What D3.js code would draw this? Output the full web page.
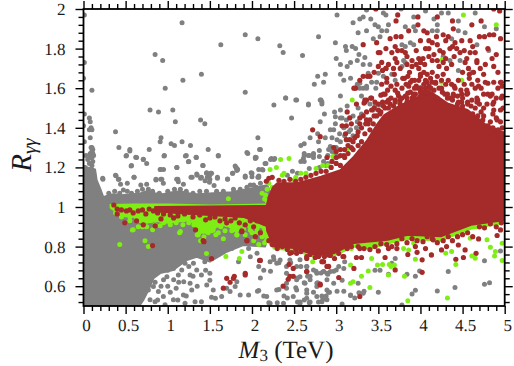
<!DOCTYPE html>
<html>
<head>
<meta charset="utf-8">
<script src="https://cdn.jsdelivr.net/npm/d3@7"></script>
<style>
    html, body { margin: 0; padding: 0; background: #fff; }
    svg { display: block; }
    text { font-family: "Liberation Serif", serif; fill: #1a1a1a; text-rendering: geometricPrecision; }
</style>
</head>
<body>
<div id="chart"></div>
<script>
// tick values
const xMajor = [0, 0.5, 1, 1.5, 2, 2.5, 3, 3.5, 4, 4.5, 5];
const xMinor = [0.1,0.2,0.3,0.4,0.6,0.7,0.8,0.9,1.1,1.2,1.3,1.4,1.6,1.7,1.8,1.9,2.1,2.2,2.3,2.4,2.6,2.7,2.8,2.9,3.1,3.2,3.3,3.4,3.6,3.7,3.8,3.9,4.1,4.2,4.3,4.4,4.6,4.7,4.8,4.9];
const yMajor = [0.6, 0.8, 1, 1.2, 1.4, 1.6, 1.8, 2];
const yMinor = [0.52,0.56,0.64,0.68,0.72,0.76,0.84,0.88,0.92,0.96,1.04,1.08,1.12,1.16,1.24,1.28,1.32,1.36,1.44,1.48,1.52,1.56,1.64,1.68,1.72,1.76,1.84,1.88,1.92,1.96];

// the places where the dots merge completely, as outlines in data units
const grayDense = [[0,0.48],[0,1.18],[0.04,1.2],[0.137,1.19],[0.156,1.136],[0.2,1.09],[0.235,1.05],[0.3,1.06],[0.354,1.065],[0.47,1.06],[0.59,1.065],[0.68,1.07],[0.75,1.08],[0.85,1.07],[0.945,1.065],[1.05,1.075],[1.146,1.08],[1.25,1.07],[1.344,1.065],[1.54,1.07],[1.75,1.075],[1.94,1.09],[2.18,1.11],[2.3,1],[2.155,0.8],[1.895,0.808],[1.7,0.774],[1.5,0.724],[1.344,0.749],[1.226,0.732],[1.065,0.682],[0.91,0.666],[0.83,0.64],[0.77,0.58],[0.71,0.53],[0.63,0.48]];
const greenBand = [[0.32,1.01],[0.6,1.012],[1,1.012],[1.5,1.008],[2.2,1.012],[2.2,0.88],[2.1,0.9],[1.98,0.89],[1.9,0.93],[1.82,0.87],[1.7,0.91],[1.58,0.9],[1.48,0.87],[1.36,0.87],[1.28,0.94],[1.2,0.93],[1,0.92],[0.85,0.93],[0.75,0.92],[0.6,0.95],[0.45,0.96],[0.34,0.99]];
const greenFringe = [[2.1,1],[2.1,0.96],[2.15,0.85],[2.26,0.79],[2.5,0.78],[2.74,0.75],[2.975,0.755],[3.21,0.8],[3.4,0.79],[3.61,0.815],[3.85,0.84],[4.24,0.83],[4.6,0.89],[5,0.92],[5,1]];
const redBand = [[0.85,1],[1.5,1.003],[2.2,1.005],[2.2,0.9],[1.9,0.95],[1.5,0.96],[1.1,0.97],[0.85,0.98]];
const redDense = [[2.18,0.88],[2.16,0.98],[2.2,1.05],[2.25,1.1],[2.3,1.12],[2.54,1.12],[2.82,1.153],[3.05,1.186],[3.21,1.254],[3.37,1.338],[3.49,1.42],[3.57,1.464],[3.73,1.506],[3.885,1.54],[4.12,1.582],[4.32,1.523],[4.56,1.49],[4.76,1.42],[5.02,1.37],[5.02,0.936],[4.6,0.91],[4.24,0.852],[3.85,0.86],[3.61,0.835],[3.21,0.818],[2.975,0.767],[2.74,0.76],[2.5,0.793],[2.26,0.801]];

const grayPoints = [
    [0.01,1.97],[0.01,1.73],[0,1.65],[0.1,1.59],[1.17,1.93],[0.85,1.77],[0.94,1.74],[1.18,1.64],[0.97,1.6],[1.4,1.67],[1.63,1.82],[1.92,1.87],[2.07,1.85],[1.92,1.58],
    [0.79,1.49],[0.89,1.48],[1.06,1.49],[1.09,1.43],[1.39,1.44],[1.44,1.42],[0.38,1.38],[0.92,1.35],[0.91,1.33],[1.04,1.32],[1.08,1.31],[1.17,1.33],[1.27,1.31],[0.42,1.3],[0.55,1.29],[0.51,1.26],[0.63,1.25],[0.71,1.24],[0.75,1.22],[0.78,1.29],[0.96,1.26],[1.22,1.26],[1.25,1.23],[1.34,1.25],[1.48,1.29],[1.6,1.26],[1.42,1.21],[0.57,1.21],[0.91,1.19],[0.95,1.19],[1.11,1.2],[1.81,1.2],[1.83,1.19],[1.95,1.27],[2.05,1.25],[2.07,1.35],[2.09,1.29],
    [0.38,1.16],[0.42,1.14],[0.6,1.15],[0.86,1.14],[0.93,1.14],[1.12,1.14],[1.29,1.15],[1.35,1.16],[1.4,1.15],[1.46,1.17],[1.51,1.17],[1.47,1.15],[1.5,1.14],[1.59,1.15],[1.71,1.14],[1.77,1.17],[1.92,1.15],[2,1.17],[2.08,1.15],[0.23,1.14],
    // column next to the left axis
    [0.07,1.45],[0.08,1.43],[0.07,1.39],[0.1,1.39],[0.09,1.4],[0.08,1.35],[0.01,1.47],[0,1.41],[0.01,1.33],[0.03,1.26],[0.02,1.2],[0.05,1.24],[0.07,1.22],[0.09,1.22],[0.1,1.25],[0.1,1.28],[0.1,1.3],[0.08,1.27],[0.12,1.26],[0.11,1.23],[0.07,1.26],[0.09,1.3],[0.11,1.29],[0.06,1.19],[0.1,1.19],[0.12,1.17],[0.09,1.16],[0.13,1.15],[0.11,1.27],[0.09,1.25],[0.1,1.21],
    // above the long band
    [0.505,1.258],[0.55,1.283],[0.62,1.251],[0.71,1.241],[0.565,1.207],[0.956,1.258],[0.916,1.19],[1.106,1.199],[1.21,1.258],[1.245,1.229],[1.336,1.251],[1.415,1.209],[1.6,1.258],[1.8,1.207],[1.82,1.195],[1.94,1.275],[2.04,1.251],
    [0.228,1.145],[0.386,1.158],[0.414,1.14],[0.44,1.115],[0.52,1.12],[0.6,1.15],[0.68,1.111],[0.75,1.115],[0.86,1.136],[0.916,1.14],[0.948,1.12],[1.106,1.14],[1.126,1.128],[1.186,1.115],[1.276,1.15],[1.344,1.167],[1.39,1.145],[1.443,1.133],[1.463,1.173],[1.5,1.162],[1.52,1.17],[1.495,1.125],[1.55,1.108],[1.59,1.145],[1.71,1.142],[1.77,1.17],[1.82,1.184],[1.92,1.157],[1.99,1.173],[2,1.153],[2.08,1.157],[2.155,1.22],[2.13,1.187],[0.473,1.086],[1.98,1.111],[2.02,1.111],[2.1,1.12],
    [0.3,1.07],[0.37,1.08],[0.43,1.07],[0.52,1.08],[0.57,1.07],[0.64,1.08],[0.7,1.09],[0.77,1.09],[0.82,1.08],[0.9,1.07],[1,1.08],[1.08,1.09],[1.15,1.09],[1.22,1.08],[1.3,1.07],[1.38,1.08],[1.46,1.08],[1.58,1.08],[1.66,1.08],[1.78,1.09],[1.86,1.09],[1.94,1.1],[2.05,1.1],
    // under the band, bottom left
    [0.99,0.648],[1.07,0.632],[0.95,0.632],[1.19,0.623],[1.265,0.615],[1.126,0.657],[1.205,0.716],[1.305,0.716],[1.344,0.682],[1.4,0.657],[1.265,0.657],[1.166,0.682],[1.067,0.69],[1.463,0.606],[1.54,0.581],[1.64,0.548],[1.74,0.573],[1.8,0.598],[1.86,0.556],[1.96,0.556],[2.08,0.578],[1.82,0.623],[1.7,0.59],[1.52,0.544],[1.566,0.539],[1.285,0.581],[1.186,0.556],[1.067,0.531],[0.948,0.548],[0.889,0.573],[0.83,0.598],[0.77,0.581],[1.324,0.522],[1.4,0.522],[1.205,0.514],[0.968,0.506],[0.849,0.522],[0.79,0.531],
    [0.88,0.7],[0.95,0.7],[1,0.68],[0.85,0.62],[0.92,0.6],[1,0.6],[1.03,0.57],[0.88,0.53],[1.1,0.59],[1.13,0.62],[1.12,0.53],[1.25,0.7],[1.3,0.65],[1.35,0.6],[1.45,0.68],[1.5,0.63],[1.22,0.55],
    [2.175,0.548],[2.215,0.514],[2.294,0.581],[2.41,0.59],[2.53,0.632],[2.65,0.581],[2.77,0.548],[2.89,0.581],[2.83,0.522],[2.89,0.531],[2.374,0.514],[2.49,0.548],[2.57,0.514],[2.41,0.699],[2.334,0.732],[2.45,0.732],[2.53,0.699],[2.65,0.699],[2.73,0.682],[2.85,0.674],[2.255,0.749],[2.294,0.716],[2.41,0.665],[2.57,0.648],[2.69,0.632],[2.89,0.632],[2.77,0.615],[2.41,0.615],[2.53,0.581],[2.65,0.539],[2.77,0.598],[2.89,0.665],
    [1.56,0.757],[1.64,0.783],[1.76,0.791],[1.44,0.724],[1.5,0.665],[1.96,0.791],[2.06,0.766],[1.98,0.749],[1.84,0.724],[2.08,0.699],[2.215,0.724],
    // top right cloud
    [3.01,1.97],[3.36,1.995],[3.32,1.96],[3.28,1.95],[3.2,1.93],[3.41,1.95],[3.56,1.98],[3.59,1.97],[3.77,2],[3.92,1.96],[4.06,1.99],[4.16,1.95],[4.2,1.92],[4.25,1.98],[4.33,1.98],[4.45,1.94],[4.65,1.98],[4.76,1.91],[4.9,1.9],
    [3.36,1.89],[3.26,1.88],[3.46,1.92],[3.5,1.91],[3.62,1.92],[3.6,1.89],[3.54,1.89],[3.52,1.86],[3.44,1.85],[3.82,1.91],[3.92,1.91],[3.94,1.89],[4.14,1.89],[4.2,1.89],[4.37,1.85],[4.45,1.89],[4.53,1.88],[3.88,1.83],[3.78,1.82],[3.82,1.81],[3.92,1.82],[3.23,1.8],[3.19,1.81],[3.11,1.81],[3.12,1.79],[3.27,1.77],[3.25,1.74],[3.34,1.755],[3,1.75],[3.05,1.72],[3.17,1.73],[3.13,1.71],[3.32,1.72],[3.4,1.72],
    [2.79,1.86],[2.99,1.83],[2.33,1.815],[2.37,1.78],[2.6,1.765],[2.78,1.66],[2.87,1.67],[2.74,1.62],[2.85,1.63],[3.05,1.67],[3.09,1.64],[3.17,1.65],[3.05,1.56],[2.4,1.55],[2.53,1.54],[2.81,1.54],[2.83,1.52],[2.67,1.52],[3.25,1.62],[3.28,1.625],[3.32,1.6],[3.36,1.61],[3.42,1.63],[3.48,1.63],[3.38,1.675],[3.5,1.675],[3.56,1.66],[3.66,1.67],[3.7,1.64],[3.78,1.71],[3.82,1.73],[3.8,1.74],[4.67,1.82],[4.81,1.79],[4.61,1.68],[4.27,1.76],[4.35,1.74],[4.47,1.74],[4.45,1.69],
    [2.26,1.515],[2.4,1.55],[2.52,1.54],[2.67,1.515],[2.82,1.54],[2.83,1.53],[2.47,1.45],[2.86,1.47],[2.81,1.43],[2.98,1.48],[3.05,1.49],[2.99,1.456],[3.05,1.45],[2.99,1.42],[2.93,1.39],[2.97,1.39],[2.69,1.35],[2.78,1.37],[2.87,1.35],[2.79,1.33],[2.95,1.35],[3.01,1.34],[2.58,1.31],[2.62,1.32],[2.93,1.305],[2.91,1.29],[2.8,1.285],[2.62,1.27],[2.67,1.26],[2.73,1.265],[2.73,1.25],[2.8,1.255],[2.1,1.29],[2.23,1.245],[2.27,1.245],[2.61,1.245],[3.03,1.255],[2.99,1.27],[3.09,1.4],[3.17,1.39],[3.24,1.4],[3.2,1.36],[3.07,1.45],[3.13,1.51],[3.28,1.6],[3.36,1.6],[3.47,1.6],[3.46,1.51],[3.44,1.49],[3.52,1.515],
    [3,1.3],[3.05,1.33],[3.1,1.36],[3.15,1.38],[3.25,1.43],[3.3,1.47],[3.4,1.52],[2.9,1.26],[2.95,1.28],[3.12,1.44],[3.2,1.46],[3.26,1.5],[3.3,1.56],[2.85,1.23],[2.9,1.22],[3.04,1.37],
    [2.04,1.245],[2.165,1.22],[2.22,1.24],[2.26,1.24],[2.62,1.26],[2.68,1.26],[2.73,1.27],[2.58,1.23],[2.62,1.23],[2.54,1.17],[2.68,1.195],[2.8,1.2],[2.88,1.21],[2.08,1.19],[2.12,1.19],[2.07,1.15],[2.42,1.16],[2.48,1.18],
    // bottom right
    [2.57,0.733],[2.65,0.7],[2.69,0.65],[2.77,0.665],[2.85,0.674],[2.93,0.674],[3,0.682],[3.09,0.69],[3.1,0.724],[3.07,0.63],[2.97,0.615],[2.91,0.57],[2.83,0.55],[2.79,0.52],[2.69,0.52],[2.57,0.52],[2.65,0.565],[2.73,0.57],[2.63,0.615],[3.07,0.51],[3.17,0.556],[3.22,0.54],[3.32,0.565],[3.5,0.57],[3.26,0.615],[3.46,0.68],[3.52,0.68],[3.62,0.66],[3.84,0.66],[3.94,0.65],[3.99,0.677],[4.33,0.674],[4.2,0.576],[4.41,0.593],[3.94,0.58],[3.9,0.56],[4.76,0.61],[4.82,0.617],[4.76,0.728],[4.95,0.778],[3.7,0.74],[3.66,0.716],[3.78,0.505],[3.33,0.575],[3.27,0.567],[3.01,0.575],[3.09,0.575],[3.17,0.553],[2.84,0.533],[2.88,0.55],[2.92,0.57],[2.065,0.575],[2.14,0.55],[2.2,0.516],[2.3,0.516],[2.32,0.583],[2.38,0.55],[2.42,0.54],[2.54,0.52],[2.62,0.53],[2.68,0.516],[2.14,0.68],[2.22,0.676],[2.1,0.642],[2.26,0.735],[2.32,0.718],[2.46,0.718],[2.58,0.7],[2.66,0.65],[2.76,0.676],[2.82,0.667],[2.9,0.66],[2.97,0.676],[3.03,0.7],[2.78,0.617],[2.62,0.617],[2.54,0.642],[2.52,0.592]
];

const greenPoints = [
    [2.34,1.24],[2.44,1.245],[2.215,1.19],[2.29,1.2],[2.38,1.17],[2.36,1.16],[2.52,1.15],[2.58,1.17],[2.64,1.17],[2.76,1.195],[2.84,1.21],[2.9,1.21],[2.96,1.255],[3.13,1.29],[3.19,1.54],[4.51,1.97],[4.9,1.92],[4.25,1.63],[4.49,1.64],[4.26,1.745],[3.73,1.53],[2.5,1.135],
    [1.72,1.042],[0.58,0.884],[1.15,0.876],[1.36,0.859],[1.48,0.9],[1.54,0.884],[1.58,0.926],[1.7,0.91],[1.82,0.859],[1.98,0.884],[2.1,0.926],
    [0.43,0.81],[0.73,0.83],[0.77,0.8],[0.82,0.885],[0.59,0.885],[0.65,0.9],[0.91,0.905],[1.14,0.87],[1.37,0.87],[1.39,0.83],[1.46,0.765],[1.69,0.75],[1.88,0.775],[1.85,0.74],[0.34,1],[0.44,1],[0.51,1],[0.59,0.985],[0.63,0.935],[0.75,0.95],[0.75,0.9],[0.89,0.95],[1.03,0.91],[1.19,0.935],[1.31,0.91],[1.35,0.86],[1.48,0.87],[1.54,0.9],[1.66,0.84],[1.82,0.86],[2.02,0.83],[2.08,0.81],
    [0.55,0.93],[0.7,0.9],[0.95,0.92],[1.1,0.92],[1.25,0.92],[1.43,0.85],[1.6,0.87],[1.76,0.88],[1.92,0.86],[2.05,0.87],[0.85,0.91],
    [0.38,0.97],[0.45,0.95],[0.5,0.96],[0.55,0.95],[0.62,0.96],[0.68,0.93],[0.72,0.94],[0.8,0.93],[0.86,0.95],[0.93,0.93],[0.98,0.95],[1.05,0.94],[1.12,0.94],[1.18,0.91],[1.24,0.94],[1.3,0.93],[1.35,0.92],[1.4,0.89],[1.45,0.9],[1.52,0.88],[1.57,0.86],[1.63,0.9],[1.68,0.88],[1.74,0.91],[1.8,0.89],[1.86,0.91],[1.9,0.89],[1.95,0.91],[2,0.87],[2.06,0.89],[2.12,0.85],[2.15,0.82],
    [2.12,1.07],[2.16,1.06],[2.18,1.09],[2.2,1.12],[2.24,1.1],[2.18,1.03],[2.15,1.04],[2.14,0.86],[2.17,0.83],
    [2.72,0.724],[3.17,0.707],[3.3,0.65],[3.38,0.677],[3.17,0.615],[3.2,0.623],[3.4,0.593],[3.49,0.707],[3.55,0.71],[3.63,0.71],[3.69,0.707],[3.65,0.7],[3.62,0.657],[3.81,0.65],[3.85,0.526],[4.32,0.54],[3.94,0.736],[4.13,0.758],[4.3,0.766],[4.37,0.775],[4.42,0.71],[4.61,0.753],[4.65,0.741],[4.79,0.834],[4.83,0.797],[4.89,0.775],[4.88,0.753],[4.97,0.73],[4.97,0.817],[3.8,0.79],[3.86,0.783],[3.18,0.79],[3.42,0.74],[3.2,0.817],[3.52,0.834],[3.92,0.817],[4.13,0.896],[4.67,0.9],[4.87,0.926],[4.59,0.842]
];

const redPoints = [
    [3.47,2],[4.87,2],[4.94,1.99],[3.73,1.97],[3.71,1.94],[3.97,1.96],[3.97,1.92],[4.2,1.96],[4.38,1.94],[4.39,1.9],[4.72,1.94],[4.61,1.92],[3.86,1.89],[4.04,1.89],[4.08,1.88],[4.19,1.86],[4.27,1.87],[4.3,1.84],[4,1.84],[4.1,1.84],[4.2,1.82],[4.38,1.81],[4.41,1.83],[4.49,1.84],[4.59,1.84],[4.7,1.86],[4.76,1.86],[4.82,1.87],[4.87,1.87],[4.95,1.85],[3.64,1.85],[3.71,1.86],[3.77,1.86],[3.48,1.83],[3.32,1.82],[3.59,1.8],[3.7,1.81],[3.73,1.79],[3.78,1.79],[3.52,1.78],[3.5,1.78],
    [4.06,1.8],[4.1,1.8],[4.16,1.77],[4.23,1.79],[4.27,1.78],[4.35,1.8],[4.43,1.8],[4.47,1.78],[4.59,1.78],[4.65,1.78],[4.67,1.74],[4.55,1.75],[4.77,1.72],[4.85,1.75],[4.87,1.71],[3.7,1.75],[3.84,1.76],[3.72,1.73],[3.68,1.7],[3.59,1.7],[3.54,1.73],[3.9,1.74],[3.98,1.75],[4.03,1.75],[4.1,1.76],[4,1.73],[3.9,1.71],[3.87,1.68],[4.2,1.74],[4.27,1.73],[4.22,1.71],[4.31,1.7],[4.37,1.72],[4.53,1.73],[4.57,1.7],[4.63,1.68],[4.71,1.7],[4.67,1.73],
    [3.4,1.66],[3.32,1.66],[3.28,1.64],[3.23,1.6],[3.54,1.62],[3.6,1.63],[3.81,1.65],[3.9,1.64],[4,1.66],[4.08,1.67],[4.14,1.68],[4.18,1.63],[4.04,1.62],[4.27,1.67],[4.33,1.64],[4.41,1.6],[4.55,1.59],[4.61,1.62],[4.69,1.61],[4.77,1.63],[4.87,1.63],[4.95,1.63],[4.97,1.61],[4.55,1.57],[4.75,1.57],[4.83,1.56],[4.87,1.53],[4.97,1.56],[3.56,1.57],[3.7,1.59],[3.74,1.56],[3.86,1.61],[3.92,1.57],[4.04,1.58],[4.16,1.59],[4.29,1.57],[4.39,1.56],[4.49,1.57],[4.61,1.54],[3.36,1.54],[3.46,1.53],[3.34,1.53],[3.62,1.54],[3.7,1.54],[3.84,1.53],[3.96,1.54],[4.08,1.55],[4.2,1.54],[4.67,1.53],
    [3.95,1.61],[4,1.6],[4.06,1.64],[4.1,1.61],[4.14,1.63],[3.98,1.64],[4.12,1.6],[4.22,1.6],
    [3.37,1.66],[3.55,1.69],[3.59,1.7],[3.69,1.67],[3.79,1.65],[3.85,1.66],[3.93,1.64],[4,1.67],[4.08,1.63],[4.18,1.625],[4.3,1.62],[4.4,1.61],[4.48,1.59],[4.56,1.575],[4.68,1.64],[4.8,1.625],[4.96,1.63],[4.92,1.6],[4.8,1.57],[4.68,1.54],[4.56,1.53],[4.44,1.56],[4.32,1.57],[4.2,1.55],[4.08,1.58],[3.97,1.6],[3.85,1.575],[3.73,1.575],[3.61,1.59],[3.53,1.565],[3.41,1.55],[3.33,1.525],[3.21,1.6],[4.86,1.52],[4.96,1.55],[4.98,1.5],[4.86,1.47],[4.72,1.48],[4.6,1.51],
    [3.45,1.5],[3.5,1.52],[3.55,1.53],[3.65,1.55],[3.78,1.55],[3.9,1.55],[4,1.56],[4.12,1.6],[4.25,1.6],[4.35,1.55],[4.45,1.53],[4.5,1.55],[4.65,1.5],[4.7,1.52],[4.75,1.5],[4.9,1.45],[4.95,1.43],[3.6,1.65],[3.65,1.61],[3.72,1.62],[3.78,1.6],[3.83,1.62],[3.88,1.63],[3.93,1.6],[3.98,1.7],[4.04,1.68],[4.12,1.65],[4.2,1.66],[4.25,1.64],[4.37,1.62],[4.45,1.64],[4.52,1.62],[4.58,1.65],[4.65,1.6],[4.72,1.6],[4.85,1.57],[4.9,1.55],[3.62,1.72],[3.76,1.7],[3.84,1.72],[3.95,1.72],[4.05,1.72],[4.14,1.74],[4.3,1.75],[4.4,1.76],[4.5,1.68],[4.58,1.67],[4.75,1.67],[4.92,1.68],[3.45,1.68],[3.5,1.71],[3.66,1.78],[3.82,1.78],[3.95,1.79],[4.14,1.83],[4.33,1.86],[4.52,1.79],[4.62,1.81],[4.8,1.8],[4.9,1.77],
    [3.24,1.52],[3.13,1.48],[3.16,1.45],[3.28,1.45],[3.36,1.48],[3.34,1.54],[3.42,1.55],[3.58,1.57],[3.52,1.47],[3.38,1.42],[3.12,1.41],[3.07,1.41],[3.18,1.42],[3.11,1.37],[3.22,1.35],[3.16,1.34],[2.72,1.39],[2.81,1.355],[2.97,1.3],[3.05,1.29],[3.09,1.26],[2.89,1.25],[3.18,1.3],[4.91,1.44],[4.97,1.4],[4.83,1.43],[4.75,1.46],[4.87,1.49],[4.95,1.49],[4.79,1.52],[4.67,1.55],[4.49,1.53],[4.39,1.57],[4.87,1.36],[4.79,1.355],[4.97,1.35],[4.77,1.33],[4.99,1.3],
    [2.2,1.145],[2.24,1.15],[2.17,1.13],
    // upper edge of the solid part
    [2.32,1.135],[2.38,1.13],[2.45,1.14],[2.52,1.13],[2.58,1.14],[2.64,1.15],[2.7,1.16],[2.76,1.17],[2.82,1.18],[2.88,1.18],[2.94,1.2],[3,1.22],[3.05,1.21],[3.1,1.25],[3.14,1.27],[3.2,1.29],[3.26,1.31],[3.3,1.33],[3.34,1.37],[3.4,1.39],[3.44,1.42],[3.48,1.46],[3.53,1.48],[3.58,1.5],[3.64,1.52],[3.7,1.53],[3.76,1.54],[3.82,1.56],[3.88,1.58],[3.94,1.57],[4,1.58],[4.06,1.6],[4.26,1.58],[4.32,1.55],[4.38,1.54],[4.44,1.52],[4.5,1.51],[4.56,1.52],[4.62,1.47],[4.68,1.46],[4.74,1.44],[4.8,1.41],[4.86,1.4],[4.92,1.39],[4.97,1.37],
    [3.45,1.46],[3.4,1.44],[3.35,1.42],[3.3,1.4],[3.26,1.38],[3.32,1.46],[3.42,1.49],[3.5,1.49],[3.56,1.51],[3.62,1.5],[3.68,1.51],[3.76,1.52],[3.6,1.53],[3.25,1.36],[3.2,1.33],[3.14,1.31],[3.1,1.29],[3.12,1.34],[3.05,1.26],[3,1.25],[2.95,1.23],[3,1.28],[3.28,1.42],[3.36,1.44],[3.84,1.55],[3.92,1.56],[4,1.6],
    // lower edge of the solid part
    [2.2,0.83],[2.24,0.81],[2.3,0.79],[2.36,0.8],[2.42,0.785],[2.47,0.77],[2.52,0.785],[2.58,0.775],[2.63,0.79],[2.69,0.76],[2.75,0.745],[2.8,0.76],[2.86,0.75],[2.93,0.755],[2.98,0.74],[3.03,0.765],[3.08,0.75],[3.13,0.79],[3.18,0.8],[3.26,0.8],[3.33,0.79],[3.4,0.785],[3.46,0.8],[3.53,0.815],[3.6,0.81],[3.66,0.8],[3.72,0.815],[3.78,0.84],[3.84,0.82],[3.9,0.84],[3.96,0.83],[4.03,0.825],[4.08,0.85],[4.14,0.84],[4.2,0.82],[4.27,0.83],[4.33,0.85],[4.38,0.83],[4.44,0.85],[4.5,0.86],[4.56,0.87],[4.62,0.85],[4.7,0.9],[4.76,0.895],[4.83,0.915],[4.9,0.9],[4.96,0.92],
    // along the long band
    [0.36,1.01],[0.4,0.99],[0.4,0.965],[0.49,0.92],[0.51,0.98],[0.59,0.97],[0.63,0.93],[0.71,0.91],[0.85,0.905],[0.82,0.805],[0.74,0.965],[0.83,0.98],[0.92,0.94],[1.07,0.945],[1.33,0.885],[1.43,0.825],[1.45,0.935],[1.62,0.93],[1.52,0.74],[1.88,0.875],[1.94,0.83],[2.04,0.85],[2.09,0.73],
    [0.9,0.985],[0.97,0.99],[1.02,0.985],[1.15,0.98],[1.25,0.975],[1.75,0.93],[1.98,0.93],[2.02,0.9],[2.1,0.87],
    [0.45,0.985],[0.55,0.985],[0.65,0.98],[0.7,0.985],[0.78,0.99],[0.88,0.97],[0.95,0.965],[1.03,0.96],[1.12,0.955],[1.2,0.965],[1.3,0.95],[1.38,0.96],[1.5,0.945],[1.56,0.95],[1.68,0.94],[1.8,0.945],[1.85,0.92],[1.92,0.91],[2.06,0.93],[2.14,0.92],[2.12,0.96],[1.7,0.92],
    // lower dots
    [1.42,0.83],[1.7,0.64],[1.78,0.64],[1.79,0.65],[1.74,0.62],[1.92,0.665],[1.92,0.657],[1.66,0.59],[2.1,0.73],[1.94,0.83],[1.88,0.88],[2.37,0.6],[2.49,0.69],[2.44,0.71],[2.45,0.65],[2.43,0.635],[2.49,0.65],[2.81,0.61],[2.65,0.674],[2.45,0.766],[2.53,0.766],[2.65,0.74],[2.77,0.75],[2.85,0.724],[2.91,0.7],
    [2.65,0.75],[2.79,0.75],[2.83,0.724],[2.89,0.7],[2.65,0.674],[2.81,0.606],[3.03,0.644],[3.21,0.69],[3.28,0.548],[3.7,0.682],[4.02,0.67],[3.09,0.75],[3.24,0.745],[3.3,0.745],[3.58,0.745],[3.72,0.79],[3.85,0.76],[4.02,0.733],[4.13,0.758],[4.25,0.783],[4.42,0.736],[4.51,0.745],[4.66,0.766],[4.69,0.839],[4.53,0.783],[4.95,0.884],[4.91,0.856],[3.96,0.771],[3.94,0.8],[4.06,0.79],[4.15,0.834],[4.31,0.8],[4.45,0.808],[3.28,0.79],[3.5,0.778],[3.62,0.79],[2.91,0.758]
];

const width = 514, height = 366;

const svg = d3.select("#chart").append("svg")
    .attr("width", width)
    .attr("height", height);

let x = d3.scaleLinear().domain([0, 5]).range([83.5, 504.7]),
    y = d3.scaleLinear().domain([0.5, 2]).range([306, 9]);

svg.append("defs").append("clipPath").attr("id", "plot")
    .append("rect")
    .attr("x", x(0)).attr("y", y(2))
    .attr("width", x(5) - x(0)).attr("height", y(0.5) - y(2));

const plot = svg.append("g").attr("clip-path", "url(#plot)");

const outline = d3.line().x(d => x(d[0])).y(d => y(d[1])).curve(d3.curveLinearClosed);

// layers go gray, green, red, so red ends up on top
function blob(points, colour) {
    plot.append("path")
        .attr("d", outline(points))
        .attr("fill", colour)
        .attr("stroke", colour)
        .attr("stroke-width", 2)
        .attr("stroke-linejoin", "round");
}

function dots(points, colour, r) {
    plot.append("g").selectAll("circle")
        .data(points)
        .enter().append("circle")
        .attr("cx", d => x(d[0]))
        .attr("cy", d => y(d[1]))
        .attr("r", r)
        .attr("fill", colour);
}

const gray = "#808080", green = "#7fee14", red = "#a52a2a";

blob(grayDense, gray);
dots(grayPoints, gray, 2.5);
blob(greenBand, green);
blob(greenFringe, green);
dots(greenPoints, green, 2.5);
blob(redBand, red);
blob(redDense, red);
dots(redPoints, red, 2.6);

// frame
svg.append("rect")
    .attr("x", x(0)).attr("y", y(2))
    .attr("width", x(5) - x(0)).attr("height", y(0.5) - y(2))
    .attr("fill", "none")
    .attr("stroke", "#000")
    .attr("stroke-width", 1.8);

// ticks stick out on all four sides, labels only on bottom and left
function drawAxis(axis, tx, ty) {
    let g = svg.append("g")
        .attr("transform", "translate(" + tx + "," + ty + ")")
        .call(axis);
    g.select(".domain").remove();
    g.selectAll("line").attr("stroke", "#000").attr("stroke-width", 1.4);
    g.selectAll("text").style("font-family", '"Liberation Serif", serif').style("font-size", "17px").attr("fill", "#1a1a1a");
    return g;
}

const fmt = d => String(d);

let xLabels = drawAxis(d3.axisBottom(x).tickValues(xMajor).tickSize(8).tickPadding(5).tickFormat(fmt), 0, y(0.5));
xLabels.selectAll("text").attr("dx", 2.5);
drawAxis(d3.axisBottom(x).tickValues(xMinor).tickSize(5).tickFormat(""), 0, y(0.5));
drawAxis(d3.axisTop(x).tickValues(xMajor).tickSize(8).tickFormat(""), 0, y(2));
drawAxis(d3.axisTop(x).tickValues(xMinor).tickSize(5).tickFormat(""), 0, y(2));
drawAxis(d3.axisLeft(y).tickValues(yMajor).tickSize(8).tickPadding(10).tickFormat(fmt), x(0), 0);
drawAxis(d3.axisLeft(y).tickValues(yMinor).tickSize(5).tickFormat(""), x(0), 0);
drawAxis(d3.axisRight(y).tickValues(yMajor).tickSize(8).tickFormat(""), x(5), 0);
drawAxis(d3.axisRight(y).tickValues(yMinor).tickSize(5).tickFormat(""), x(5), 0);

// axis titles
let xTitle = svg.append("text")
    .attr("x", 286).attr("y", 358)
    .attr("text-anchor", "middle")
    .style("font-size", "25px");
xTitle.append("tspan").style("font-style", "italic").text("M");
xTitle.append("tspan").attr("dy", 3).style("font-size", "17px").text("3");
xTitle.append("tspan").attr("dy", -3).text(" (TeV)");

let yTitle = svg.append("text")
    .attr("transform", "translate(31,155) rotate(-90)")
    .attr("text-anchor", "middle")
    .style("font-size", "29px");
yTitle.append("tspan").style("font-style", "italic").text("R");
yTitle.append("tspan").attr("dy", 5).style("font-size", "20px").style("font-style", "italic").text("γγ");
</script>
</body>
</html>
